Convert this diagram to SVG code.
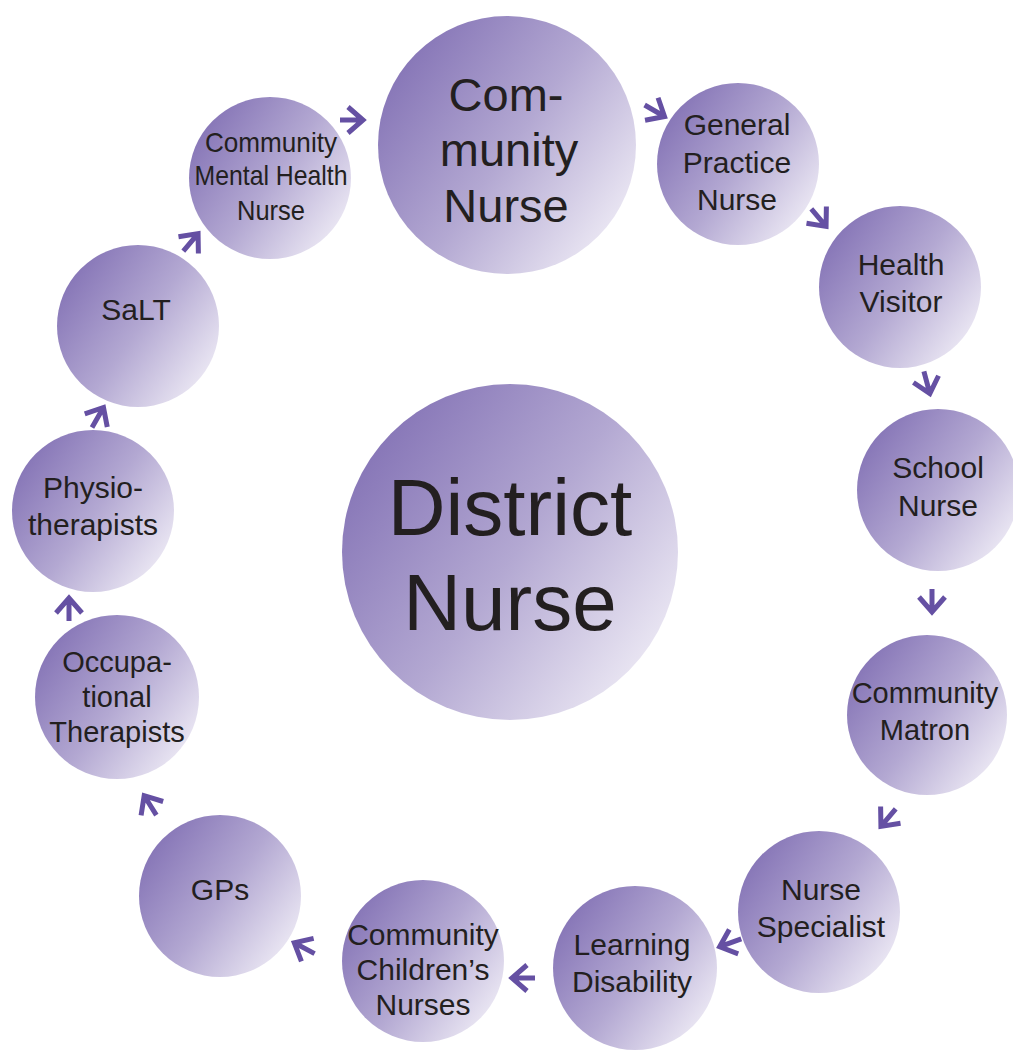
<svg xmlns="http://www.w3.org/2000/svg" width="1013" height="1050" viewBox="0 0 1013 1050">
<defs>
<linearGradient id="g" x1="0.05" y1="0.2" x2="0.95" y2="0.85">
<stop offset="0" stop-color="#8574b6"/>
<stop offset="0.5" stop-color="#b3a8d2"/>
<stop offset="1" stop-color="#efecf6"/>
</linearGradient>
<path id="arr" d="M-12,0H10M-4,-13L11,0L-4,13"/>
</defs>
<style>
circle{fill:url(#g)}
text{font-family:"Liberation Sans",Arial,sans-serif;fill:#231f20;text-anchor:middle;font-size:30px}
.cn{font-size:28px}
#connectors use{fill:none;stroke:#6550a3;stroke-width:5}
</style>
<rect width="1013" height="1050" fill="#fff"/>
<g id="district-nurse"><circle cx="510" cy="552" r="168"/><text style="font-size:80px"><tspan x="510" y="535">District</tspan><tspan x="510" y="630">Nurse</tspan></text></g>
<g id="community-nurse"><circle cx="507" cy="145" r="129"/><text style="font-size:47px"><tspan x="506" y="111">Com-</tspan><tspan x="509" y="166">munity</tspan><tspan x="506" y="222">Nurse</tspan></text></g>
<g id="general-practice-nurse"><circle cx="738" cy="164" r="81"/><text><tspan x="737" y="135">General</tspan><tspan x="737" y="173">Practice</tspan><tspan x="737" y="210">Nurse</tspan></text></g>
<g id="health-visitor"><circle cx="900" cy="287" r="81"/><text><tspan x="901" y="275">Health</tspan><tspan x="901" y="312">Visitor</tspan></text></g>
<g id="school-nurse"><circle cx="938" cy="490" r="81"/><text><tspan x="938" y="478">School</tspan><tspan x="938" y="516">Nurse</tspan></text></g>
<g id="community-matron"><circle cx="927" cy="715" r="80"/><text style="font-size:29px"><tspan x="925" y="703">Community</tspan><tspan x="925" y="740">Matron</tspan></text></g>
<g id="nurse-specialist"><circle cx="819" cy="912" r="81"/><text><tspan x="821" y="900">Nurse</tspan><tspan x="821" y="937">Specialist</tspan></text></g>
<g id="learning-disability"><circle cx="635" cy="968" r="82"/><text><tspan x="632" y="955">Learning</tspan><tspan x="632" y="992">Disability</tspan></text></g>
<g id="community-childrens-nurses"><circle cx="423" cy="961" r="81"/><text><tspan x="423" y="945">Community</tspan><tspan x="423" y="980">Children’s</tspan><tspan x="423" y="1015">Nurses</tspan></text></g>
<g id="gps"><circle cx="220" cy="896" r="81"/><text x="220" y="900">GPs</text></g>
<g id="occupational-therapists"><circle cx="117" cy="697" r="82"/><text style="font-size:29px"><tspan x="117" y="672">Occupa-</tspan><tspan x="117" y="707">tional</tspan><tspan x="117" y="742">Therapists</tspan></text></g>
<g id="physiotherapists"><circle cx="93" cy="511" r="81"/><text><tspan x="93" y="498">Physio-</tspan><tspan x="93" y="535">therapists</tspan></text></g>
<g id="salt"><circle cx="138" cy="326" r="81"/><text x="136" y="320">SaLT</text></g>
<g id="community-mental-health-nurse"><circle cx="270" cy="178" r="81"/><text class="cn" x="271" y="152" textLength="132" lengthAdjust="spacingAndGlyphs">Community</text><text class="cn" x="271" y="185" textLength="153" lengthAdjust="spacingAndGlyphs">Mental Health</text><text class="cn" x="271" y="220" textLength="68" lengthAdjust="spacingAndGlyphs">Nurse</text></g>
<g id="connectors">
<use href="#arr" transform="translate(352,120)"/>
<use href="#arr" transform="translate(655,111) rotate(30)"/>
<use href="#arr" transform="translate(819,218) rotate(50)"/>
<use href="#arr" transform="translate(927,383) rotate(75)"/>
<use href="#arr" transform="translate(932,601) rotate(90)"/>
<use href="#arr" transform="translate(888,818) rotate(130)"/>
<use href="#arr" transform="translate(730,943) rotate(160)"/>
<use href="#arr" transform="translate(523,978) rotate(180)"/>
<use href="#arr" transform="translate(304,948) rotate(208)"/>
<use href="#arr" transform="translate(150,805) rotate(238)"/>
<use href="#arr" transform="translate(69,609) rotate(270)"/>
<use href="#arr" transform="translate(98,417) rotate(-60)"/>
<use href="#arr" transform="translate(191,242) rotate(-50)"/>
</g>
</svg>
